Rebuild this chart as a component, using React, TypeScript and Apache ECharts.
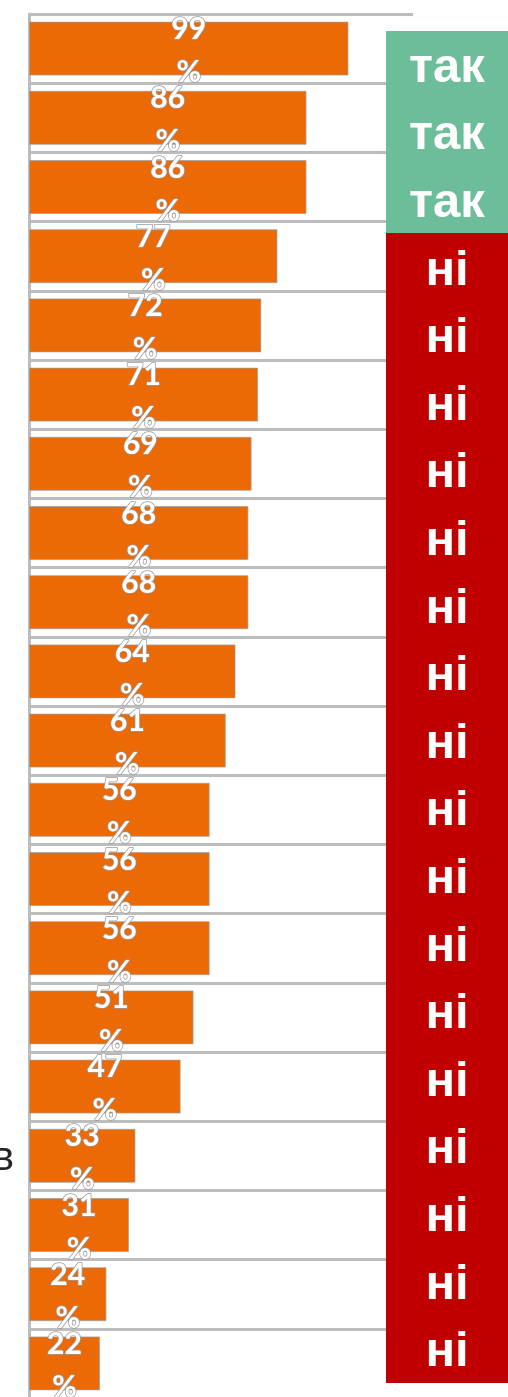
import React, { useEffect, useRef } from "react";
import * as echarts from "echarts";

const categories = ["1", "2", "3", "4", "5", "6", "7", "8", "9", "10", "11", "12", "13", "14", "15", "16", "17", "18", "19", "20"];
const axisLabels = ["", "", "", "", "", "", "", "", "", "", "", "", "", "", "", "", "в", "", "", ""];
const values = [99, 86, 86, 77, 72, 71, 69, 68, 68, 64, 61, 56, 56, 56, 51, 47, 33, 31, 24, 22];
const answers = ["так", "так", "так", "ні", "ні", "ні", "ні", "ні", "ні", "ні", "ні", "ні", "ні", "ні", "ні", "ні", "ні", "ні", "ні", "ні"];

export default function App() {
  const ref = useRef<HTMLDivElement>(null);
  useEffect(() => {
    if (!ref.current) return;
    const chart = echarts.init(ref.current, null, { renderer: "svg" });
    chart.setOption({
      animation: false,
      grid: [
        { left: 29, top: 14, width: 384, height: 1384, outerBoundsMode: "none", containLabel: false },
        { left: 386, top: 31, width: 124, height: 1352, outerBoundsMode: "none", containLabel: false },
      ],
      xAxis: [
        { gridIndex: 0, type: "value", min: 0, max: 119, show: false },
        { gridIndex: 1, type: "value", min: 0, max: 1, show: false },
      ],
      yAxis: [
        {
          gridIndex: 0,
          type: "category",
          data: categories,
          inverse: true,
          axisLine: { show: true, lineStyle: { color: "#bdbdbd", width: 3 } },
          axisTick: { show: false },
          splitLine: { show: true, lineStyle: { color: "#bdbdbd", width: 3 } },
          axisLabel: {
            margin: 15,
            fontSize: 40,
            color: "#262626",
            fontFamily: "Liberation Sans",
            formatter: (_v: string, i: number) => axisLabels[i],
          },
        },
        {
          gridIndex: 1,
          type: "category",
          data: categories,
          inverse: true,
          show: false,
        },
      ],
      series: [
        {
          type: "bar",
          xAxisIndex: 0,
          yAxisIndex: 0,
          data: values,
          barCategoryGap: "22%",
          itemStyle: { color: "#EB6A05", borderColor: "rgba(160,160,160,0.7)", borderWidth: 1 },
          label: {
            show: true,
            position: "inside",
            formatter: "{c}\n%",
            color: "#ffffff",
            fontFamily: "Lato",
            fontWeight: "bold",
            fontSize: 30,
            lineHeight: 43,
            textBorderColor: "#9a9a9a",
            textBorderWidth: 1.5,
          },
          z: 3,
        },
        {
          type: "bar",
          xAxisIndex: 1,
          yAxisIndex: 1,
          barWidth: 69,
          data: answers.map((a) => {
            const c = a === "так" ? "#6BBE99" : "#C00000";
            return { value: 1, name: a, itemStyle: { color: c } };
          }),
          label: {
            show: true,
            position: "inside",
            offset: [-1, 0],
            formatter: (p: any) => p.name,
            color: "#ffffff",
            fontFamily: "Liberation Sans",
            fontWeight: "bold",
            fontSize: 49,
          },
          z: 4,
        },
      ],
    });
    return () => chart.dispose();
  }, []);
  return (
    <div
      ref={ref}
      style={{ position: "fixed", left: 0, top: 0, width: 508, height: 1397 }}
    />
  );
}
